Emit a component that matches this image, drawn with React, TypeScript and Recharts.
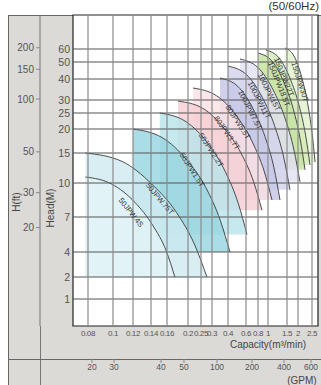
import { ComposedChart, Area, Scatter, XAxis, YAxis, CartesianGrid, ReferenceArea } from 'recharts'

// printed tick values and where each sits along its axis (grid units, 1 unit = 1px)
const CAP_TICKS = [0.08, 0.1, 0.12, 0.14, 0.16, 0.2, 0.25, 0.3, 0.4, 0.6, 0.8, 1, 1.5, 2, 2.5]
const CAP_POS = [15, 40, 60, 78, 94, 115, 128, 139, 155, 173, 185, 195, 214, 225, 239]
const GPM_TICKS = [20, 30, 40, 50, 100, 200, 400, 600]
const GPM_POS = [19, 41, 88, 111, 144, 179, 211, 238]
const HEAD_TICKS = [1, 2, 4, 7, 10, 15, 20, 25, 30, 40, 50, 60]
const HEAD_POS = [27, 49, 74, 109, 143, 173, 197, 213, 226, 247, 264, 277]
const FT_TICKS = [20, 30, 50, 100, 150, 200]

// pump curves: [capacity m3/min, head m], from shut-off to end of range
const P50_04S = [[0.078, 11], [0.099, 9.9], [0.122, 8.3], [0.142, 6.3], [0.159, 4.1], [0.175, 2]]
const P50_075T = [[0.078, 15], [0.109, 13.6], [0.141, 9.9], [0.178, 7.4], [0.226, 4.6], [0.277, 2]]
const P50_15T = [[0.12, 20], [0.154, 18.2], [0.197, 13.9], [0.272, 9.6], [0.352, 6.7], [0.422, 4]]
const P50_22T = [[0.151, 25], [0.196, 22.3], [0.281, 17], [0.383, 11.9], [0.514, 8.2], [0.617, 5.5]]
const P80_37T = [[0.181, 29.6], [0.26, 26.7], [0.376, 20.2], [0.544, 15], [0.727, 10.2], [0.88, 7.6]]
const P80_55T = [[0.219, 35.7], [0.329, 32], [0.494, 24.1], [0.705, 17.3], [0.922, 12], [1.105, 8.5]]
const P100_75T = [[0.35, 40.6], [0.511, 36.4], [0.717, 26.7], [0.94, 18.4], [1.158, 12.5], [1.316, 8.5]]
const P100_11T = [[0.4, 47.6], [0.61, 42.5], [0.882, 31.4], [1.171, 21.1], [1.416, 14.2], [1.636, 9.4]]
const P100_15T = [[0.533, 52.3], [0.8, 46.7], [1.132, 34.9], [1.447, 23.4], [1.818, 15.6], [2.071, 10.2]]
const P150_185T = [[0.8, 56.9], [1.108, 50.6], [1.418, 38.4], [1.786, 26.5], [2.082, 17.8], [2.25, 12.2]]
const P150_22T = [[0.96, 59.2], [1.295, 53.1], [1.645, 40.1], [2.036, 28], [2.271, 18.7], [2.43, 13]]
const P150_30T = [[1.447, 60.8], [1.818, 54.6], [2.125, 41.5], [2.339, 29], [2.5, 19.3], [2.61, 13.5]]

const LABEL_NAMES = ['50JPW.4S', '50JPW.75T', '50JPW1.5T', '50JPW2.2T', '80JPW3.7T', '80JPW5.5T', '100JPW7.5T', '100JPW11T', '100JPW15T', '150JPW18.5T', '150JPW22T', '150JPW30T']
const LABEL_Q = [0.118, 0.151, 0.215, 0.295, 0.394, 0.511, 0.667, 0.82, 1.026, 1.289, 1.421, 2.071]
const LABEL_H = [7.4, 8.6, 12.2, 15.6, 19.2, 22.2, 26.2, 30, 33.8, 37.6, 41.2, 38.6]
const LABEL_ANGLE = [52, 50, 57, 57, 55, 57, 63, 63, 63, 68, 68, 72]

// back to front
const PUMPS = [
  { pts: P150_30T, fill: '#e3f2ce' },
  { pts: P150_22T, fill: '#d4eab8' },
  { pts: P150_185T, fill: '#c6e2a3' },
  { pts: P100_15T, fill: '#e1e1f3' },
  { pts: P100_11T, fill: '#d3d3ed' },
  { pts: P100_75T, fill: '#c6c6e6' },
  { pts: P80_55T, fill: '#fbe1e4' },
  { pts: P80_37T, fill: '#f5ced4' },
  { pts: P50_22T, fill: '#bae4ec' },
  { pts: P50_15T, fill: '#98d5e1' },
  { pts: P50_075T, fill: '#cfeaf0' },
  { pts: P50_04S, fill: '#e3f4f7' },
]

const calib = (vals: number[], pos: number[]) => (v: number) => {
  let i = 0
  while (i < vals.length - 2 && v > vals[i + 1]) i++
  return pos[i] + ((v - vals[i]) / (vals[i + 1] - vals[i])) * (pos[i + 1] - pos[i])
}
const capX = calib(CAP_TICKS, CAP_POS)
const gpmX = calib(GPM_TICKS, GPM_POS)
const headY = calib(HEAD_TICKS, HEAD_POS)

const X_MAX = 245
const Y_MAX = 311
const FONT = "'Liberation Sans', Arial, sans-serif"
const TXT = '#555'

const tickMap = (vals: number[], f: (v: number) => number) => {
  const m = new Map<number, string>()
  vals.forEach((v) => m.set(f(v), String(v)))
  return m
}
const capLabels = tickMap(CAP_TICKS, capX)
const gpmLabels = tickMap(GPM_TICKS, gpmX)
const headLabels = tickMap(HEAD_TICKS, headY)
const ftLabels = tickMap(FT_TICKS, (ft) => headY(ft * 0.3048))

const labelRows = LABEL_NAMES.map((name, i) => ({
  x: capX(LABEL_Q[i]),
  y: headY(LABEL_H[i]),
  name,
  angle: LABEL_ANGLE[i],
}))

// grid lines as joined scatter pairs
const hGrid = HEAD_TICKS.map((h) => [{ x: 0, y: headY(h) }, { x: X_MAX, y: headY(h) }])
const vGrid = CAP_TICKS.map((q) => [{ x: capX(q), y: 0 }, { x: capX(q), y: Y_MAX }])
const NoDot = () => <g />

function PumpLabel(props: any) {
  const { cx, cy, payload } = props
  return (
    <text
      x={cx}
      y={cy}
      transform={`rotate(${payload.angle} ${cx} ${cy})`}
      textAnchor="middle"
      dominantBaseline="central"
      fontSize={7.5}
      fontFamily={FONT}
      fill="#333"
    >
      {payload.name}
    </text>
  )
}

const title = (text: string, dx: number, dy: number, angle = 0) => (props: any) => {
  const vb = props.viewBox
  const x = vb.x + dx
  const y = vb.y + dy
  return (
    <text
      x={x}
      y={y}
      transform={angle ? `rotate(${angle} ${x} ${y})` : undefined}
      textAnchor="middle"
      dominantBaseline="central"
      fontSize={10}
      fontFamily={FONT}
      fill="#444"
    >
      {text}
    </text>
  )
}

export default function App() {
  return (
    <div style={{ position: 'absolute', left: 0, top: 0, width: 321, height: 385, background: '#fff', fontFamily: FONT }}>
      <div style={{ position: 'absolute', left: 8, top: 15, width: 313, height: 370, background: '#dcdad7', borderLeft: '1px solid #666', borderTop: '1px solid #666', boxSizing: 'border-box' }} />
      <div style={{ position: 'absolute', left: 40, top: 326, width: 1, height: 59, background: '#777' }} />
      <div style={{ position: 'absolute', left: 8, top: 359, width: 313, height: 1, background: '#666' }} />
      <div style={{ position: 'absolute', right: 2, top: 0, fontSize: 11.5, color: '#333' }}>(50/60Hz)</div>
      <div style={{ position: 'absolute', left: 0, top: 0 }}>
        <ComposedChart width={321} height={385} margin={{ top: 15, right: 3, bottom: 0, left: 8 }}>
          <CartesianGrid xAxisId="cap" yAxisId="m" fill="#fff" horizontal={false} vertical={false} />
          <XAxis
            xAxisId="cap"
            dataKey="x"
            type="number"
            domain={[0, X_MAX]}
            allowDataOverflow
            ticks={CAP_TICKS.map(capX)}
            interval={0}
            tickFormatter={(v) => capLabels.get(v) ?? ''}
            tick={{ fontSize: 8, fill: TXT, fontFamily: FONT, letterSpacing: -0.4 }}
            tickLine={false}
            tickSize={0}
            tickMargin={4}
            axisLine={false}
            height={33}
            label={{ content: title('Capacity(m³/min)', 195, 18) }}
          />
          <XAxis
            xAxisId="gpm"
            dataKey="x"
            type="number"
            domain={[0, X_MAX]}
            allowDataOverflow
            ticks={GPM_TICKS.map(gpmX)}
            interval={0}
            tickFormatter={(v) => gpmLabels.get(v) ?? ''}
            tick={{ fontSize: 8.5, fill: TXT, fontFamily: FONT }}
            tickLine={{ stroke: '#888' }}
            tickSize={4}
            tickMargin={1}
            axisLine={false}
            height={26}
            label={{ content: title('(GPM)', 229, 21) }}
          />
          <YAxis
            yAxisId="m"
            dataKey="y"
            type="number"
            domain={[0, Y_MAX]}
            allowDataOverflow
            ticks={HEAD_TICKS.map(headY)}
            interval={0}
            tickFormatter={(v) => headLabels.get(v) ?? ''}
            tick={{ fontSize: 10.5, fill: TXT, fontFamily: FONT }}
            tickLine={false}
            tickSize={0}
            tickMargin={3}
            axisLine={false}
            width={33}
            label={{ content: title('Head(M)', 10, 193, -90) }}
          />
          <YAxis
            yAxisId="zft"
            type="number"
            domain={[0, Y_MAX]}
            allowDataOverflow
            ticks={FT_TICKS.map((ft) => headY(ft * 0.3048))}
            interval={0}
            tickFormatter={(v) => ftLabels.get(v) ?? ''}
            tick={{ fontSize: 10, fill: TXT, fontFamily: FONT }}
            tickLine={{ stroke: '#888' }}
            tickSize={4}
            tickMargin={2}
            axisLine={{ stroke: '#777' }}
            width={32}
            label={{ content: title('H(ft)', 8, 187, -90) }}
          />
          {hGrid.map((d, i) => (
            <Scatter key={'h' + i} xAxisId="gpm" yAxisId="m" data={d} dataKey="y" line={{ stroke: '#555', strokeWidth: 1 }} shape={NoDot} isAnimationActive={false} />
          ))}
          {vGrid.map((d, i) => (
            <Scatter key={'v' + i} xAxisId="cap" yAxisId="m" data={d} dataKey="y" line={{ stroke: '#8a8a8a', strokeWidth: 1.2 }} shape={NoDot} isAnimationActive={false} />
          ))}
          {PUMPS.map((p, i) => (
            <Area
              key={i}
              xAxisId="cap"
              yAxisId="m"
              data={p.pts.map(([q, h]) => ({ x: capX(q), y: headY(h) }))}
              dataKey="y"
              type="monotone"
              baseValue={headY(p.pts[p.pts.length - 1][1])}
              fill={p.fill}
              fillOpacity={0.82}
              stroke="#3a3a3a"
              strokeWidth={0.9}
              dot={false}
              activeDot={false}
              isAnimationActive={false}
            />
          ))}
          <ReferenceArea xAxisId="cap" yAxisId="m" x1={0} x2={X_MAX} y1={0} y2={Y_MAX} fill="none" stroke="#222" strokeWidth={1.2} />
          <Scatter xAxisId="cap" yAxisId="m" data={labelRows} dataKey="y" shape={PumpLabel} isAnimationActive={false} />
        </ComposedChart>
      </div>
    </div>
  )
}
